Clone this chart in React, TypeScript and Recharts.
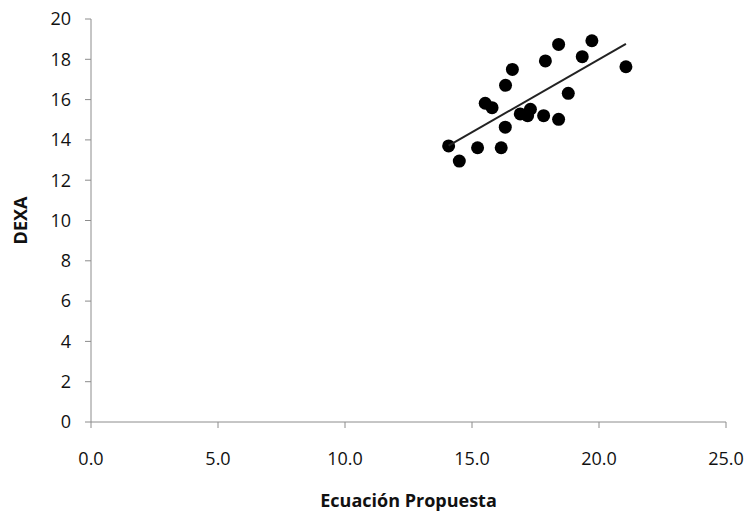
import { ScatterChart, Scatter, XAxis, YAxis } from "recharts";

const ecuacion = [14.08, 14.5, 15.22, 16.15, 16.31, 15.52, 15.79, 16.32, 16.59, 16.9, 17.19, 17.3, 17.82, 17.89, 18.41, 18.41, 18.79, 19.34, 19.72, 21.06];
const dexa = [13.7, 12.95, 13.61, 13.61, 14.63, 15.82, 15.6, 16.71, 17.5, 15.29, 15.2, 15.52, 15.2, 17.92, 15.02, 18.74, 16.31, 18.13, 18.92, 17.63];

// trend line end points
const trendX = [14.08, 21.06];
const trendY = [13.72, 18.76];

const xTicks = [0, 5, 10, 15, 20, 25];
const yTicks = [0, 2, 4, 6, 8, 10, 12, 14, 16, 18, 20];

const points = ecuacion.map((x, i) => ({ x, y: dexa[i] }));
const trend = trendX.map((x, i) => ({ x, y: trendY[i] }));

const font = "'Open Sans', sans-serif";
const axisColor = "#8c8c8c";

const Dot = (props: any) => <circle cx={props.cx} cy={props.cy} r={6.5} fill="#000" />;

export default function App() {
  return (
    <div style={{ position: "absolute", left: 0, top: 0, background: "#fff" }}>
      <ScatterChart width={745} height={512} margin={{ top: 19, right: 19, bottom: 0, left: 0 }}>
        <XAxis
          type="number"
          dataKey="x"
          domain={[0, 25]}
          ticks={xTicks}
          tickFormatter={(v: number) => v.toFixed(1)}
          height={90}
          stroke={axisColor}
          tickSize={6}
          tickMargin={24}
          tick={{ fill: "#111", fontSize: 18, fontFamily: font }}
          label={{
            value: "Ecuación Propuesta",
            position: "insideBottom",
            offset: 5,
            fill: "#111",
            fontSize: 18,
            fontWeight: 700,
            fontFamily: font,
          }}
        />
        <YAxis
          type="number"
          dataKey="y"
          domain={[0, 20]}
          ticks={yTicks}
          width={91}
          stroke={axisColor}
          tickSize={6}
          tickMargin={14}
          tick={{ fill: "#111", fontSize: 18, fontFamily: font }}
          label={{
            value: "DEXA",
            angle: -90,
            position: "insideLeft",
            offset: 21,
            fill: "#111",
            fontSize: 18,
            fontWeight: 700,
            fontFamily: font,
            style: { textAnchor: "middle" },
          }}
        />
        <Scatter data={points} shape={Dot} isAnimationActive={false} />
        <Scatter
          data={trend}
          line={{ stroke: "#222", strokeWidth: 2 }}
          shape={() => null}
          isAnimationActive={false}
        />
      </ScatterChart>
    </div>
  );
}
